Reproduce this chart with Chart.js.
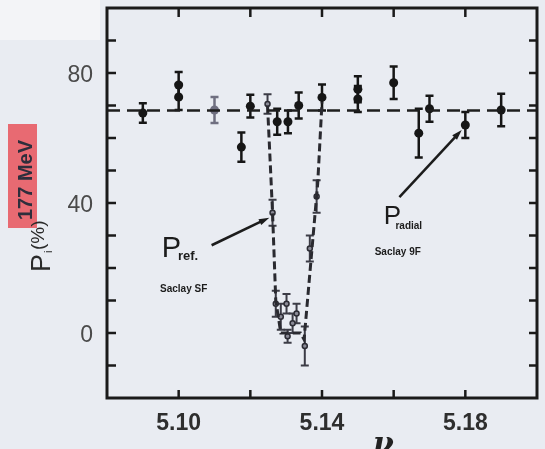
<!DOCTYPE html>
<html>
<head>
<meta charset="utf-8">
<script src="https://cdn.jsdelivr.net/npm/chart.js@4.4.0/dist/chart.umd.min.js"></script>
<style>
  html, body { margin: 0; padding: 0; background: #e9ecf2; }
</style>
</head>
<body>
<canvas id="myChart" width="545" height="449"></canvas>
<script>
// P_radial points (Saclay 9F)
const radialX = [5.090, 5.100, 5.100, 5.110, 5.1175, 5.120, 5.1275, 5.1305, 5.1335, 5.140, 5.150, 5.150, 5.160, 5.167, 5.170, 5.180, 5.190]
const radialY = [67.7, 76.3, 72.6, 68.6, 57.2, 69.8, 65.0, 65.0, 70.0, 72.5, 75.0, 72.0, 77.0, 61.5, 69.0, 64.0, 68.6]
const radialErr = [3, 4, 4, 4, 4.5, 3.5, 4, 3.5, 4, 4, 4, 4, 5, 7.5, 4, 4, 5]

// P_ref points in the dip (Saclay SF)
const refX = [5.1248, 5.1262, 5.1271, 5.1285, 5.1301, 5.1304, 5.1318, 5.1329, 5.1352, 5.1366, 5.1385]
const refY = [70.5, 37, 9, 5, 9, -1, 3, 6, -4, 26, 42]
const refErr = [3, 4, 4, 4, 3, 2, 3, 3, 6, 4, 5]

// dashed curve through the dip
const curveX = [5.1248, 5.1254, 5.1262, 5.1271, 5.1285, 5.1340, 5.1350, 5.1388, 5.1400]
const curveY = [70, 56, 37, 10, 0, 0, -2, 46, 71]

// mean level
const meanLevel = 68.5

// axes
const xMin = 5.08
const xMax = 5.20
const yMin = -20
const yMax = 100
const xTickLabels = [5.10, 5.14, 5.18]
const yTickLabels = [0, 40, 80]
const xTickMarks = [5.10, 5.12, 5.14, 5.16, 5.18]
const yTickMarks = [-10, 0, 10, 20, 30, 40, 50, 60, 70, 80, 90]

const toPoints = (xs, ys) => xs.map((x, i) => ({ x: x, y: ys[i] }))

const grayPoint = 3 // the 5.11 point is printed lighter

// Frame and inward ticks
const framePlugin = {
  id: 'frame',
  beforeDraw(chart) {
    const { ctx } = chart
    ctx.save()
    ctx.fillStyle = '#e9ecf2'
    ctx.fillRect(0, 0, chart.width, chart.height)
    ctx.fillStyle = '#f3f4f7'
    ctx.fillRect(0, 0, 100, 40)
    ctx.restore()
  },
  afterDraw(chart) {
    const { ctx, chartArea: a, scales } = chart
    ctx.save()
    ctx.strokeStyle = '#1a1a1a'
    ctx.lineWidth = 3
    ctx.strokeRect(a.left, a.top, a.right - a.left, a.bottom - a.top)
    ctx.lineWidth = 2.5
    ctx.beginPath()
    xTickMarks.forEach((v) => {
      const px = scales.x.getPixelForValue(v)
      ctx.moveTo(px, a.top)
      ctx.lineTo(px, a.top + 9)
      ctx.moveTo(px, a.bottom)
      ctx.lineTo(px, a.bottom - 8)
    })
    yTickMarks.forEach((v) => {
      const py = scales.y.getPixelForValue(v)
      ctx.moveTo(a.left, py)
      ctx.lineTo(a.left + 9, py)
      ctx.moveTo(a.right, py)
      ctx.lineTo(a.right - 8, py)
    })
    ctx.stroke()
    ctx.restore()
  },
}

// Vertical error bars with caps
const errorBars = {
  id: 'errorBars',
  beforeDatasetsDraw(chart) {
    const { ctx, scales: { x, y } } = chart
    chart.data.datasets.forEach((ds) => {
      if (!ds.errors) return
      ctx.save()
      ctx.lineWidth = ds.errWidth
      ds.data.forEach((p, i) => {
        const px = x.getPixelForValue(p.x)
        const top = y.getPixelForValue(p.y + ds.errors[i])
        const bot = y.getPixelForValue(p.y - ds.errors[i])
        ctx.strokeStyle = ds.errColor(i)
        ctx.beginPath()
        ctx.moveTo(px, top)
        ctx.lineTo(px, bot)
        ctx.moveTo(px - 4, top)
        ctx.lineTo(px + 4, top)
        ctx.moveTo(px - 4, bot)
        ctx.lineTo(px + 4, bot)
        ctx.stroke()
      })
      ctx.restore()
    })
  },
}

function arrow(ctx, x1, y1, x2, y2) {
  const ang = Math.atan2(y2 - y1, x2 - x1)
  ctx.beginPath()
  ctx.moveTo(x1, y1)
  ctx.lineTo(x2 - 6 * Math.cos(ang), y2 - 6 * Math.sin(ang))
  ctx.stroke()
  ctx.beginPath()
  ctx.moveTo(x2, y2)
  ctx.lineTo(x2 - 11 * Math.cos(ang - 0.3), y2 - 11 * Math.sin(ang - 0.3))
  ctx.lineTo(x2 - 11 * Math.cos(ang + 0.3), y2 - 11 * Math.sin(ang + 0.3))
  ctx.closePath()
  ctx.fill()
}

// Labels, arrows and axis titles
const notes = {
  id: 'notes',
  afterDraw(chart) {
    const { ctx, scales: { x, y } } = chart
    const X = (v) => x.getPixelForValue(v)
    const Y = (v) => y.getPixelForValue(v)
    ctx.save()
    ctx.fillStyle = '#1c1c1c'
    ctx.strokeStyle = '#1c1c1c'
    ctx.lineWidth = 2.5
    arrow(ctx, X(5.1092), Y(27), X(5.1253), Y(35.5))
    arrow(ctx, X(5.1616), Y(41.8), X(5.1790), Y(62.5))

    ctx.textBaseline = 'alphabetic'
    ctx.font = '29px "Liberation Sans", Arial, sans-serif'
    ctx.fillText('P', X(5.0953), Y(23.5))
    ctx.font = 'bold 13px "Liberation Sans", Arial, sans-serif'
    ctx.fillText('ref.', X(5.0998), Y(22.5))
    ctx.font = 'bold 10px "Liberation Sans", Arial, sans-serif'
    ctx.fillText('Saclay SF', X(5.0948), Y(12.5))

    ctx.font = '26px "Liberation Sans", Arial, sans-serif'
    ctx.fillText('P', X(5.1572), Y(33.5))
    ctx.font = 'bold 10px "Liberation Sans", Arial, sans-serif'
    ctx.fillText('radial', X(5.1605), Y(32))
    ctx.fillText('Saclay 9F', X(5.1547), Y(24))

    // y title, rotated
    ctx.save()
    ctx.translate(50, 272)
    ctx.rotate(-Math.PI / 2)
    ctx.fillStyle = '#e86a72'
    ctx.fillRect(44, -42, 104, 29)
    ctx.fillStyle = '#2a2a2a'
    ctx.font = '27px "Liberation Sans", Arial, sans-serif'
    ctx.fillText('P', 0, 0)
    ctx.font = '11px "Liberation Sans", Arial, sans-serif'
    ctx.fillText('i', 19, 2)
    ctx.font = '19px "Liberation Sans", Arial, sans-serif'
    ctx.fillText('(%)', 22, -6)
    ctx.fillStyle = '#2e2e3c'
    ctx.font = 'bold 20px "Liberation Sans", Arial, sans-serif'
    ctx.fillText('177 MeV', 52, -18)
    ctx.restore()

    // x title, cut off at the bottom edge
    ctx.fillStyle = '#222'
    ctx.font = 'bold italic 30px "DejaVu Serif", serif'
    ctx.fillText('\u03BD', 373, 453)
    ctx.restore()
  },
}

const ctx = document.getElementById('myChart').getContext('2d')

const chart = new Chart(ctx, {
  type: 'scatter',
  data: {
    datasets: [
      {
        label: 'mean',
        data: [{ x: xMin, y: meanLevel }, { x: xMax, y: meanLevel }],
        showLine: true,
        borderColor: '#1e1e1e',
        borderWidth: 2.5,
        borderDash: [13, 7],
        pointRadius: 0,
      },
      {
        label: 'P ref. curve',
        data: toPoints(curveX, curveY),
        showLine: true,
        borderColor: '#2a2a30',
        borderWidth: 3,
        borderDash: [8, 4],
        pointRadius: 0,
        tension: 0,
      },
      {
        label: 'P ref.',
        data: toPoints(refX, refY),
        errors: refErr,
        errWidth: 2,
        errColor: () => '#3c3c46',
        pointRadius: 2.5,
        backgroundColor: '#8a8a96',
        borderColor: '#2c2c34',
        borderWidth: 1.5,
      },
      {
        label: 'P radial',
        data: toPoints(radialX, radialY),
        errors: radialErr,
        errWidth: 2.5,
        errColor: (i) => (i === grayPoint ? '#6f6f80' : '#161616'),
        pointRadius: 4.5,
        backgroundColor: (c) => (c.dataIndex === grayPoint ? '#6f6f80' : '#161616'),
        borderWidth: 0,
      },
    ],
  },
  options: {
    responsive: false,
    animation: false,
    layout: { padding: { top: 8, right: 8, left: 0, bottom: 0 } },
    plugins: { legend: { display: false }, tooltip: { enabled: false } },
    scales: {
      x: {
        type: 'linear',
        min: xMin,
        max: xMax,
        afterBuildTicks: (s) => {
          s.ticks = xTickLabels.map((v) => ({ value: v }))
        },
        afterFit: (s) => {
          s.height = 51
          s.paddingLeft = 0
          s.paddingRight = 0
        },
        grid: { display: false, drawTicks: false },
        border: { display: false },
        ticks: {
          callback: (v) => Number(v).toFixed(2),
          color: '#2e2e2e',
          font: { family: '"Liberation Sans", Arial, sans-serif', size: 23, weight: 'bold' },
          padding: 12,
          maxRotation: 0,
          autoSkip: false,
        },
      },
      y: {
        type: 'linear',
        min: yMin,
        max: yMax,
        afterBuildTicks: (s) => {
          s.ticks = yTickLabels.map((v) => ({ value: v }))
        },
        afterFit: (s) => {
          s.width = 107
          s.paddingTop = 0
          s.paddingBottom = 0
        },
        grid: { display: false, drawTicks: false },
        border: { display: false },
        ticks: {
          callback: (v) => String(v),
          color: '#4a4a4a',
          font: { family: '"Liberation Sans", Arial, sans-serif', size: 23 },
          padding: 14,
          labelOffset: 3,
        },
      },
    },
  },
  plugins: [framePlugin, errorBars, notes],
})
</script>
</body>
</html>
